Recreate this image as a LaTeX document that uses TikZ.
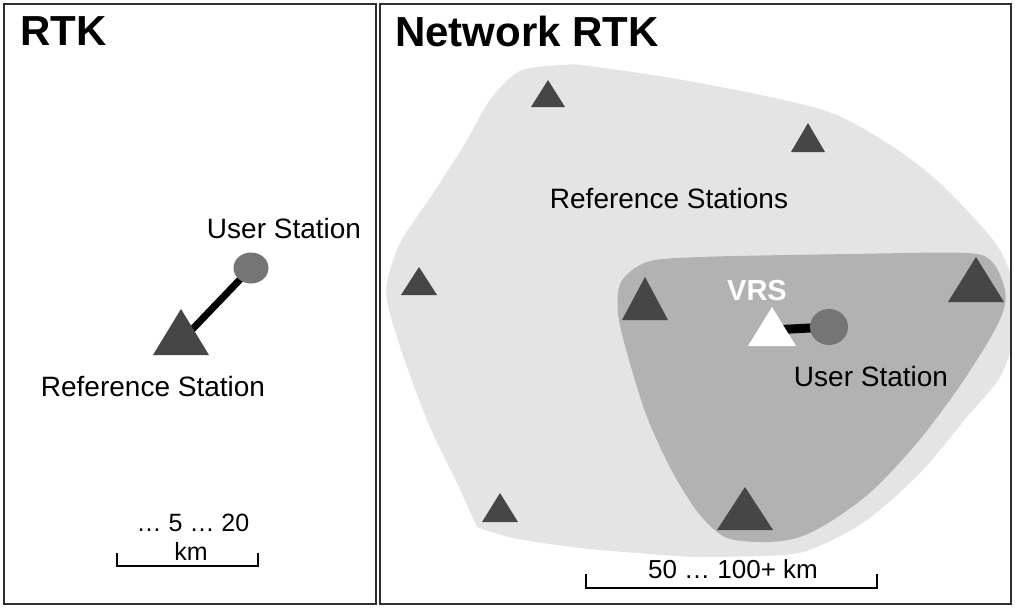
\documentclass[tikz,border=0pt]{standalone}
\usepackage{fontspec}
\setmainfont{Liberation Sans}
\usetikzlibrary{shapes.geometric}
\definecolor{frame}{HTML}{2E2E2E}
\definecolor{outerzone}{HTML}{E4E4E4}
\definecolor{innerzone}{HTML}{B2B2B2}
\definecolor{refgray}{HTML}{464646}
\definecolor{usergray}{HTML}{757575}
\tikzset{
  panel/.style={draw=frame, line width=2.4pt},
  title/.style={font=\fontsize{42}{48}\selectfont\bfseries, anchor=north west, inner sep=0pt},
  lbl/.style={font=\fontsize{28}{32}\selectfont, inner sep=0pt},
  smalllbl/.style={font=\fontsize{25}{28}\selectfont, inner sep=0pt},
  userdot/.style={ellipse, fill=usergray, inner sep=0pt, minimum width=35pt, minimum height=31pt},
  link/.style={line width=7pt, black},
  scalebar/.style={line width=2.6pt, black},
}
% station triangle: name, apex x, apex y, half base width, height, colour
\newcommand{\tristation}[6]{%
  \fill[#6] (#2,#3) -- (#2-#4,#3+#5) -- (#2+#4,#3+#5) -- cycle;
  \coordinate (#1) at (#2,#3+#5*2/3);
}
\begin{document}
\begin{tikzpicture}[x=1pt,y=-1pt]
\useasboundingbox (0,0) rectangle (1015,608);
\fill[white] (0,0) rectangle (1015,608);

% ---------------- single-base RTK ----------------
\draw[panel] (4,4) rectangle (376,604);
\node[title] (rtkT) at (20,16) {RTK};

\coordinate (rUserC) at (251,268);
\coordinate (rRefC) at (184,338);
\draw[link] (rUserC) -- (rRefC);
\tristation{rRef}{181}{309}{28}{46}{refgray}
\node[userdot] (rUser) at (rUserC) {};
\node[lbl] (rUserL) at (284,228) {User Station};
\node[lbl] (rRefL) at (153,386) {Reference Station};

\node[smalllbl] (rDist) at (193,523) {\dots\ 5 \dots\ 20};
\node[smalllbl] (rKm) at (191,551) {km};
\coordinate (rBarL) at (117,566);
\coordinate (rBarR) at (258,566);
\draw[scalebar] ([yshift=13pt]rBarL) -- (rBarL) -- (rBarR) -- ([yshift=13pt]rBarR);

% ---------------- network RTK ----------------
\begin{scope}
\clip (381,5) rectangle (1010,603);
% network coverage
\fill[outerzone] plot[smooth, tension=0.5] coordinates {
  (477,527) (457,483) (430,427) (407,367) (389,310) (387,283) (400,243)
  (430,198) (463,147) (490,100) (520,71) (563,65) (590,66) (700,83)
  (823,110) (887,143) (933,177) (973,217) (1000,250) (1015,290)
  (1015,333) (1000,377) (967,417) (920,473) (867,520) (817,547)
  (783,555) (700,557) (663,555) (580,548) (513,538) (477,527)} -- cycle;
% cell used for the virtual reference station
\fill[innerzone] plot[smooth cycle, tension=0.5] coordinates {
  (647,262) (700,257) (850,254) (967,253) (993,263) (1005,290)
  (1003,312) (988,342) (957,390) (917,443) (873,490) (833,520)
  (800,537) (767,542) (727,538) (700,515) (673,473) (647,417)
  (627,353) (618,313) (621,282)};
\end{scope}
\draw[panel] (380,4) rectangle (1011,604);
\node[title] (nrtkT) at (395,16) {Network RTK};

\tristation{n1}{548}{80}{17}{27}{refgray}
\tristation{n2}{808}{123}{17}{29}{refgray}
\tristation{n3}{419}{267}{18}{28}{refgray}
\tristation{n4}{645}{277}{23}{43}{refgray}
\tristation{n5}{976}{257}{28}{45}{refgray}
\tristation{n6}{745}{487}{28}{43}{refgray}
\tristation{n7}{500}{493}{18}{29}{refgray}

\node[lbl] (nRefL) at (669,198) {Reference Stations};

\coordinate (nUserC) at (829,327);
\coordinate (vrsC) at (772,330);
\draw[link, line width=9pt] (vrsC) -- (nUserC);
\tristation{vrs}{772}{307}{24}{39}{white}
\node[userdot, minimum width=38pt, minimum height=36pt] (nUser) at (nUserC) {};
\node[lbl, font=\fontsize{29}{32}\selectfont\bfseries, text=white] (vrsL) at (757,291) {VRS};
\node[lbl] (nUserL) at (871,376) {User Station};

\node[lbl, font=\fontsize{26}{30}\selectfont] (nDist) at (733,569) {50 \dots\ 100+ km};
\coordinate (nBarL) at (586,588);
\coordinate (nBarR) at (877,588);
\draw[scalebar] ([yshift=14pt]nBarL) -- (nBarL) -- (nBarR) -- ([yshift=14pt]nBarR);
\end{tikzpicture}
\end{document}
